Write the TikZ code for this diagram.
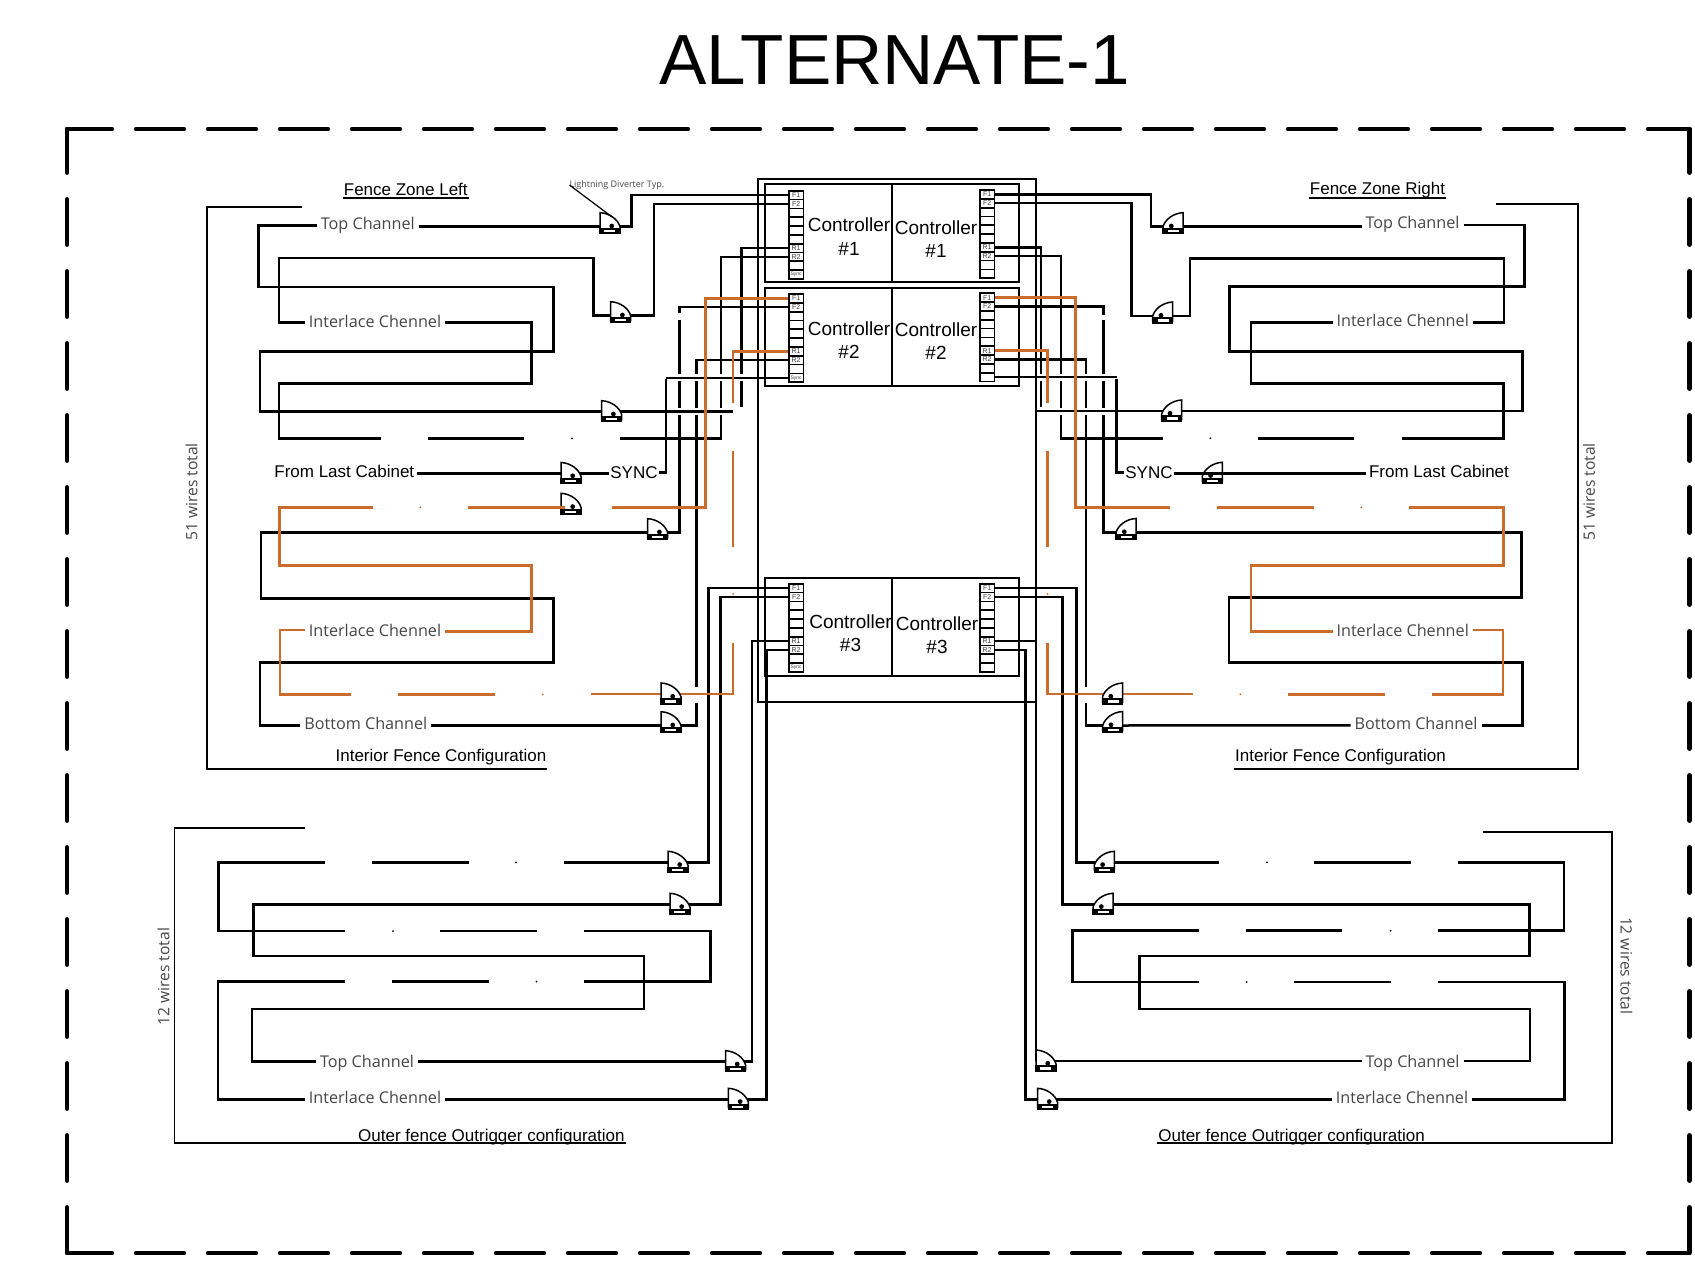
\documentclass[tikz,border=0pt]{standalone}
\usepackage{fontspec}
\usepackage{tikz}
\setmainfont{Liberation Sans}
\newfontfamily\thinfont{Open Sans}
\definecolor{wireorange}{RGB}{203,107,44}
\definecolor{thingray}{RGB}{70,70,70}
\tikzset{
  wire/.style={line width=2.5pt},
  orangewire/.style={line width=2.5pt,draw=wireorange},
  hop/.style={preaction={draw=white,line width=7pt}},
  frameline/.style={line width=1.7pt},
  fencetop/.style={line width=4.4pt,line cap=round,dash pattern=on 48pt off 24pt,dash phase=3pt},
  fenceside/.style={line width=4.4pt,line cap=round,dash pattern=on 45.5pt off 26.5pt,dash phase=1.75pt},
  chanlabel/.style={inner sep=0pt,outer sep=4pt,text height=12pt,text depth=0pt,text=thingray,font=\thinfont\fontsize{16.2}{18}\selectfont},
  headlabel/.style={inner sep=0pt,outer sep=1pt,text height=12pt,text depth=0pt,font=\fontsize{17}{18}\selectfont},
  wirecount/.style={inner sep=0pt,text=thingray,font=\thinfont\fontsize{15.6}{18}\selectfont},
  ctllabel/.style={inner sep=0pt,align=center,font=\fontsize{19}{23.5}\selectfont},
  termcell/.style={draw,fill=white,line width=1.7pt,inner sep=0pt,minimum width=14.5pt,minimum height=8.83pt,font=\fontsize{7}{7}\selectfont,text=black!75},
  termstripleft/.pic={
    \foreach \cellno/\cellname in {1/F1,2/F2,3/,4/,5/,6/,7/R1,8/R2,9/,10/{\fontsize{5}{5}\selectfont Sync}}
      \node[termcell] (-\cellno) at (7.8,{(\cellno-0.5)*8.83}) {\cellname};
  },
  termstripright/.pic={
    \foreach \cellno/\cellname in {1/F1,2/F2,3/,4/,5/,6/,7/R1,8/R2,9/,10/}
      \node[termcell] (-\cellno) at (7.8,{(\cellno-0.5)*8.83}) {\cellname};
  },
  fencediv/.pic={
    \draw[line width=1.5pt,fill=white] (0,-14) .. controls (10,-13.5) and (18,-7) .. (20,0) -- (20,5) -- (0,5) -- cycle;
    \fill (-0.7,1.4) rectangle (20.7,7.6);
    \fill[white] (4,3.4) rectangle (15,5.6);
    \fill (11.7,-0.7) circle (2.4);
  }
}

\begin{document}
\begin{tikzpicture}[x=1pt,y=-1pt]
    \useasboundingbox (0,0) rectangle (1695,1268);
    \node[inner sep=0pt,font=\fontsize{71}{75}\selectfont] (title) at (894.5,60) {ALTERNATE-1};
    \draw[fencetop] (67,129) -- (1689.5,129);
    \draw[fencetop] (67,1253) -- (1689.5,1253);
    \draw[fenceside] (67,129) -- (67,1253);
    \draw[fenceside] (1689.5,129) -- (1689.5,1253);
    %
    \pic (sLa) at (788.3,190.7) {termstripleft};
    \pic (sLb) at (788.3,294) {termstripleft};
    \pic (sLc) at (788.3,583.7) {termstripleft};
    \pic (sRa) at (979.3,190) {termstripright};
    \pic (sRb) at (979.3,293.3) {termstripright};
    \pic (sRc) at (979.3,583.7) {termstripright};
    %
    \coordinate (dvLa) at (600,226.7);
    \coordinate (dvLb) at (610.7,315.7);
    \coordinate (dvLc) at (601.7,411.7);
    \coordinate (dvLd) at (561,473.5);
    \coordinate (dvLe) at (561,507.3);
    \coordinate (dvLf) at (647.7,532.7);
    \coordinate (dvLg) at (661,694);
    \coordinate (dvLh) at (661,725.7);
    \coordinate (dvOa) at (668,862.3);
    \coordinate (dvOb) at (670,904.3);
    \coordinate (dvOc) at (725.5,1061.7);
    \coordinate (dvOd) at (728.4,1099.3);
    \coordinate (dvRa) at (1183,226.7);
    \coordinate (dvRb) at (1172.7,316);
    \coordinate (dvRc) at (1181.7,411);
    \coordinate (dvRd) at (1222.3,473.3);
    \coordinate (dvRf) at (1136,532.5);
    \coordinate (dvRg) at (1122.5,694);
    \coordinate (dvRh) at (1122.7,725.5);
    \coordinate (dvQa) at (1114.3,862.3);
    \coordinate (dvQb) at (1113,904.3);
    \coordinate (dvQc) at (1036,1061);
    \coordinate (dvQd) at (1037.5,1099.3);
    \coordinate (dvTip) at (611.7,216.7);
    %
    \node[chanlabel] (lblTopL) at (367.8,223.3) {Top Channel};
    \node[chanlabel] (lblIntL) at (375,321) {Interlace Chennel};
    \node[chanlabel] (lblIntLb) at (375,630) {Interlace Chennel};
    \node[chanlabel] (lblBotL) at (365.8,723.3) {Bottom Channel};
    \node[chanlabel] (lblTopO) at (367,1061.7) {Top Channel};
    \node[chanlabel] (lblIntO) at (375,1097.3) {Interlace Chennel};
    \node[chanlabel] (lblTopR) at (1412.5,222.7) {Top Channel};
    \node[chanlabel] (lblIntR) at (1402.7,320.7) {Interlace Chennel};
    \node[chanlabel] (lblIntRb) at (1402.7,630) {Interlace Chennel};
    \node[chanlabel] (lblBotR) at (1416,723.3) {Bottom Channel};
    \node[chanlabel] (lblTopQ) at (1412.5,1061.7) {Top Channel};
    \node[chanlabel] (lblIntQ) at (1402,1097.3) {Interlace Chennel};
    \node[headlabel,outer sep=3pt] (lblFromL) at (344.3,471.7) {From Last Cabinet};
    \node[headlabel,outer sep=3pt] (lblFromR) at (1439,471) {From Last Cabinet};
    \node[headlabel] (lblSyncL) at (634,472.7) {SYNC};
    \node[headlabel] (lblSyncR) at (1149,472.7) {SYNC};
    \node[headlabel] (lblZoneL) at (405.8,189.3) {Fence Zone Left};
    \node[headlabel] (lblZoneR) at (1377.5,189) {Fence Zone Right};
    \node[headlabel] (lblCfgL) at (441,755) {Interior Fence Configuration};
    \node[headlabel] (lblCfgR) at (1340.5,755) {Interior Fence Configuration};
    \node[headlabel] (lblOutL) at (491.4,1135) {Outer fence Outrigger configuration};
    \node[headlabel] (lblOutR) at (1291.6,1135) {Outer fence Outrigger configuration};
    \node[inner sep=0pt,outer sep=0pt,anchor=west,text=thingray,font=\thinfont\fontsize{9}{10}\selectfont] (lblDiverter) at (569.5,185) {Lightning Diverter Typ.};
    \node[wirecount,rotate=90] (cntL) at (191.5,492) {51 wires total};
    \node[wirecount,rotate=90] (cntR) at (1589,492) {51 wires total};
    \node[wirecount,rotate=90] (cntO) at (163.5,976.7) {12 wires total};
    \node[wirecount,rotate=-90] (cntQ) at (1626.5,965.7) {12 wires total};
    %
    \node[ctllabel] (ctlLa) at (849,236.8) {Controller\\\#1};
    \node[ctllabel] (ctlRa) at (936,238.9) {Controller\\\#1};
    \node[ctllabel] (ctlLb) at (849,340) {Controller\\\#2};
    \node[ctllabel] (ctlRb) at (936,341) {Controller\\\#2};
    \node[ctllabel] (ctlLc) at (850.5,633.3) {Controller\\\#3};
    \node[ctllabel] (ctlRc) at (937,635) {Controller\\\#3};
    %
    % left interior, black
    \draw[wire] (sLa-1.west) -| (631.7,226.7) -- (dvLa);
    \draw[wire] (lblTopL.east |- dvLa) -- (dvLa);
    \draw[wire] (lblTopL.west |- 0,225.7) -| (258.3,287) -| (553.3,351.7) -| (260,411.7) -- (dvLc);
    \draw[wire] (sLa-2.west) -| (654,315.7) -- (dvLb);
    \draw[wire] (dvLb) -| (593.3,258) -| (279,322.7) -- (lblIntL.west |- 0,322.7);
    \draw[wire] (lblIntL.east |- 0,322.7) -| (531.7,383.3) -| (279,438.3) -- (380.7,438.3);
    \draw[wire] (428,438.3) -- (524.3,438.3);
    \draw[wire] (620,438.6) -- (721,438.6) |- (sLa-8.west);
    \draw[wire] (sLa-7.west) -| (741.7,406.7);
    \draw[wire] (sLb-2.west) -| (679.5,313);
    \draw[wire] (679.5,320) |- (dvLf);
    \draw[wire] (dvLf) -| (261,598.3) -| (553.3,662.3) -| (260,725.7) -- (lblBotL.west |- 0,725.7);
    \draw[wire] (lblBotL.east |- 0,725.7) -- (dvLh);
    \draw[wire] (dvLh) -| (696.7,702.7);
    \draw[wire] (696.7,686.7) |- (sLb-8.west);
    \draw[wire] (lblFromL.east |- dvLd) -- (dvLd) -- (lblSyncL.west |- dvLd);
    \draw[wire,hop] (dvLc) -- (733.3,411.7);
    \draw[wire,hop] (sLb-10.west) -- (sLb-10.west -| 666,0);
    \draw[wire] (666,378.7) |- (lblSyncL.east);
    %
    % right interior, black
    \draw[wire] (sRa-1.east) -| (1151,226.7) -- (dvRa);
    \draw[wire] (dvRa) -- (lblTopR.west |- dvRa);
    \draw[wire] (lblTopR.east |- 0,225) -| (1524.3,286.7) -| (1229.3,351.7) -| (1522.7,411) -- (dvRc);
    \draw[wire] (sRa-2.east) -| (1131.7,316) -- (dvRb);
    \draw[wire] (dvRb) -| (1190,258.3) -| (1504,322.3) -- (lblIntR.east |- 0,322.3);
    \draw[wire] (lblIntR.west |- 0,322.3) -| (1251,383.3) -| (1503.6,438.3) -- (1402.3,438.3);
    \draw[wire] (1354.3,438.3) -- (1258.3,438.3);
    \draw[wire] (1162.7,438.7) -- (1061,438.7) |- (sRa-8.east);
    \draw[wire] (sRa-7.east) -| (1041,406.7);
    \draw[wire] (sRb-2.east) -| (1103.7,315);
    \draw[wire] (1103.7,320) |- (dvRf);
    \draw[wire] (dvRf) -| (1521.3,597.7) -| (1229,662.3) -| (1522.3,725.3) -- (lblBotR.east |- 0,725.3);
    \draw[wire] (lblBotR.west |- 0,725.3) -- (dvRh);
    \draw[wire] (dvRh) -| (1086,702.7);
    \draw[wire] (1086,686.7) |- (sRb-8.east);
    \draw[wire,hop] (dvRc) -- (1035.7,411);
    \draw[wire,hop] (sRb-10.east) -- (sRb-10.east -| 1116.7,0);
    \draw[wire] (1116.7,378.7) |- (lblSyncR.west);
    %
    % outer left
    \draw[wire] (sLc-1.west) -| (708.4,862.3) -- (dvOa);
    \draw[wire] (dvOa) -- (563.5,862.3);
    \draw[wire] (468.8,862.3) -- (371.6,862.3);
    \draw[wire] (324.7,862.3) -| (218.6,931) -- (345,931);
    \draw[wire] (440,931) -- (537,931);
    \draw[wire] (584,931) -| (710.4,981.7) -- (584,981.7);
    \draw[wire] (488.8,981.7) -- (392,981.7);
    \draw[wire] (345,981.7) -| (217.8,1099.3) -- (lblIntO.west |- 0,1099.3);
    \draw[wire] (lblIntO.east |- 0,1099.3) -- (dvOd);
    \draw[wire] (sLc-8.west) -| (766.7,1099.3) -- (dvOd);
    \draw[wire] (sLc-2.west) -| (720.6,904.3) -- (dvOb);
    \draw[wire] (dvOb) -| (253.7,956) -| (644,1009) -| (252,1061.7) -- (lblTopO.west |- 0,1061.7);
    \draw[wire] (lblTopO.east |- 0,1061.7) -- (dvOc);
    \draw[wire] (sLc-7.west) -| (752,1061.7) -- (dvOc);
    %
    % outer right
    \draw[wire] (sRc-1.east) -| (1076.3,862.3) -- (dvQa);
    \draw[wire] (dvQa) -- (1219,862.3);
    \draw[wire] (1314,862.3) -- (1411,862.3);
    \draw[wire] (1458,862.3) -| (1564,930.7) -- (1438,930.7);
    \draw[wire] (1342,930.7) -- (1246,930.7);
    \draw[wire] (1198.8,930.7) -| (1072.7,982) -- (1198.8,982);
    \draw[wire] (1293.9,982) -- (1390.6,982);
    \draw[wire] (1438,982) -| (1564.5,1099.3) -- (lblIntQ.east |- 0,1099.3);
    \draw[wire] (lblIntQ.west |- 0,1099.3) -- (dvQd);
    \draw[wire] (sRc-8.east) -| (1025.3,1099.3) -- (dvQd);
    \draw[wire] (sRc-2.east) -| (1062.4,904.3) -- (dvQb);
    \draw[wire] (dvQb) -| (1529.4,956) -| (1139.6,1009) -| (1529.8,1061) -- (lblTopQ.east |- 0,1061);
    \draw[wire] (lblTopQ.west |- 0,1061) -- (dvQc);
    \draw[wire] (sRc-7.east) -| (1036,1061) -- (dvQc);
    %
    \foreach \dotx/\doty in {572/438.3,1210.3/438.3,516/862.3,393/931,536.5/981.7,1267/862.3,1390.6/930.7,1246.5/982}
      \fill (\dotx,\doty) circle (1);
    %
    \draw[frameline] (301.7,206.7) -| (206.7,769) -- (lblCfgL.east |- 0,769);
    \draw[frameline] (1495.7,204.3) -| (1578,769) -- (lblCfgR.west |- 0,769);
    \draw[frameline] (305,828.3) -| (174.5,1143.3) -- (lblOutL.east |- 0,1143.3);
    \draw[frameline] (1482.9,831.7) -| (1612,1143.3) -- (lblOutR.west |- 0,1143.3);
    \draw[frameline] (757.7,179) rectangle (1035.7,701.7);
    \draw[frameline] (765,184.3) rectangle (1019,281.7) (892.3,184.3) -- (892.3,281.7);
    \draw[frameline] (765,288.3) rectangle (1019,385.7) (892.3,288.3) -- (892.3,385.7);
    \draw[frameline] (765,578) rectangle (1019,675.7) (892.3,578) -- (892.3,675.7);
    \draw[frameline] (lblZoneL.west |- 0,198.3) -- (lblZoneL.east |- 0,198.3);
    \draw[frameline] (lblZoneR.west |- 0,198.3) -- (lblZoneR.east |- 0,198.3);
    %
    % orange pair
    \draw[orangewire] (sLb-1.west) -| (705.3,507.3) -- (612.3,507.3);
    \draw[orangewire] (372.7,507.3) -| (279.3,565.7) -| (531.7,631.7) -- (lblIntLb.east |- 0,631.7);
    \draw[orangewire] (lblIntLb.west |- 0,630) -| (280,694.3) -- (351,694.3);
    \draw[orangewire] (398.3,694.3) -- (495,694.3);
    \draw[orangewire] (590.7,694) -| (733,642.7);
    \draw[orangewire] (sLb-7.west) -| (733,402.7);
    \draw[orangewire] (733,450.7) -- (733,546.7);
    \draw[orangewire] (sRb-1.east) -| (1075.7,507.3) -- (1170,507.3);
    \draw[orangewire] (1216.7,507.3) -- (1314,507.3);
    \draw[orangewire] (1409,507.3) -| (1503.3,565.3) -| (1251,631.3) -- (lblIntRb.west |- 0,631.3);
    \draw[orangewire] (lblIntRb.east |- 0,630) -| (1503,694.3) -- (1432,694.3);
    \draw[orangewire] (1385,694.3) -- (1288,694.3);
    \draw[orangewire] (1192.7,694) -| (1047.3,642.7);
    \draw[orangewire] (sRb-7.east) -| (1047.7,402.7);
    \draw[orangewire] (1047.7,450.7) -- (1047.7,546.7);
    \foreach \dotx/\doty in {420.3/507.3,542.7/694.3,733/594,1361.3/507.3,1240.3/694.3,1047.7/594}
      \fill[wireorange] (\dotx,\doty) circle (1);
    %
    \foreach \dvname in {dvLa,dvLb,dvLe,dvLf,dvLh}
      \pic at (\dvname) {fencediv};
    \foreach \dvname in {dvLc,dvLd,dvLg,dvOa,dvOb,dvOc,dvOd,dvQc,dvQd}
      \pic[yshift=-3pt] at (\dvname) {fencediv};
    \foreach \dvname in {dvRa,dvRb,dvRf,dvRh}
      \pic[xscale=-1] at (\dvname) {fencediv};
    \foreach \dvname in {dvRc,dvRd,dvRg,dvQa,dvQb}
      \pic[xscale=-1,yshift=-3pt] at (\dvname) {fencediv};
    %
    \draw[orangewire] (468.3,507.3) -- (565,507.3);
    \draw[wire] (lblSyncR.east |- dvRd) -- (lblFromR.west |- dvRd);
    \draw[line width=1.2pt] (lblDiverter.west) -- (dvTip);
\end{tikzpicture}
\end{document}
